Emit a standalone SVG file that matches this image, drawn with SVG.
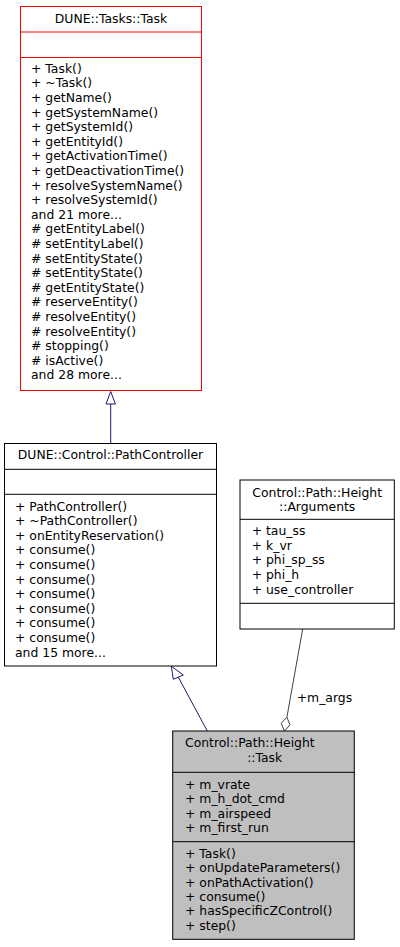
<svg xmlns="http://www.w3.org/2000/svg" width="400" height="947" viewBox="0 0 400 947">
<style>
text{font-family:"DejaVu Sans","Liberation Sans",sans-serif;font-size:12.4px;fill:#000}
.c{text-anchor:middle}
.box{fill:#fff;stroke:#000;stroke-width:1}
.red{fill:#fff;stroke:#ff0000;stroke-width:1}
.gray{fill:#bfbfbf;stroke:#000;stroke-width:1}
.inh{fill:none;stroke:#191970;stroke-width:1}
.agg{fill:none;stroke:#404040;stroke-width:1}
</style>
<rect width="400" height="947" fill="#fff"/>
<g id="connectors">
<line class="inh" x1="110.7" y1="404" x2="110.7" y2="443.5"/>
<polygon class="inh" fill="#fff" points="110.7,391.5 106,404 115.4,404" style="fill:#fff"/>
<line class="inh" x1="178.3" y1="677.2" x2="207.3" y2="731"/>
<polygon class="inh" points="171.3,666.2 173.3,679.3 183.3,675" style="fill:#fff"/>
<line class="agg" x1="302.7" y1="629" x2="286.9" y2="717.2"/>
<polygon class="agg" points="284.4,731 290,724.9 286.9,717.2 281.2,723.3" style="fill:#fff"/>
<text x="296.7" y="701.7">+m_args</text>
</g>
<g id="node-task">
<rect class="red" x="20.5" y="6.5" width="181" height="384"/>
<line class="red" x1="20.5" y1="32" x2="201.5" y2="32"/>
<line class="red" x1="20.5" y1="57.5" x2="201.5" y2="57.5"/>
<text class="c" x="111" y="23.3">DUNE::Tasks::Task</text>
<text x="31" y="72.8">+ Task()</text>
<text x="31" y="87.4">+ ~Task()</text>
<text x="31" y="102">+ getName()</text>
<text x="31" y="116.6">+ getSystemName()</text>
<text x="31" y="131.2">+ getSystemId()</text>
<text x="31" y="145.8">+ getEntityId()</text>
<text x="31" y="160.4">+ getActivationTime()</text>
<text x="31" y="175">+ getDeactivationTime()</text>
<text x="31" y="189.6">+ resolveSystemName()</text>
<text x="31" y="204.2">+ resolveSystemId()</text>
<text x="31" y="218.8">and 21 more...</text>
<text x="31" y="233.4"># getEntityLabel()</text>
<text x="31" y="248"># setEntityLabel()</text>
<text x="31" y="262.6"># setEntityState()</text>
<text x="31" y="277.2"># setEntityState()</text>
<text x="31" y="291.8"># getEntityState()</text>
<text x="31" y="306.4"># reserveEntity()</text>
<text x="31" y="321"># resolveEntity()</text>
<text x="31" y="335.6"># resolveEntity()</text>
<text x="31" y="350.2"># stopping()</text>
<text x="31" y="364.8"># isActive()</text>
<text x="31" y="379.4">and 28 more...</text>
</g>
<g id="node-pathcontroller">
<rect class="box" x="4.5" y="443.5" width="212" height="222.5"/>
<line class="box" x1="4.5" y1="469.3" x2="216.5" y2="469.3"/>
<line class="box" x1="4.5" y1="494.3" x2="216.5" y2="494.3"/>
<text class="c" x="110.5" y="459.3">DUNE::Control::PathController</text>
<text x="15" y="510.5">+ PathController()</text>
<text x="15" y="525.1">+ ~PathController()</text>
<text x="15" y="539.7">+ onEntityReservation()</text>
<text x="15" y="554.3">+ consume()</text>
<text x="15" y="568.9">+ consume()</text>
<text x="15" y="583.5">+ consume()</text>
<text x="15" y="598.1">+ consume()</text>
<text x="15" y="612.7">+ consume()</text>
<text x="15" y="627.3">+ consume()</text>
<text x="15" y="641.9">+ consume()</text>
<text x="15" y="656.5">and 15 more...</text>
</g>
<g id="node-arguments">
<rect class="box" x="240" y="480" width="154.3" height="149"/>
<line class="box" x1="240" y1="519.3" x2="394.3" y2="519.3"/>
<line class="box" x1="240" y1="603.3" x2="394.3" y2="603.3"/>
<text class="c" x="317.2" y="496.5">Control::Path::Height</text>
<text class="c" x="317.2" y="511">::Arguments</text>
<text x="251.7" y="535.2">+ tau_ss</text>
<text x="251.7" y="549.8">+ k_vr</text>
<text x="251.7" y="564.4">+ phi_sp_ss</text>
<text x="251.7" y="579">+ phi_h</text>
<text x="251.7" y="593.6">+ use_controller</text>
</g>
<g id="node-height-task">
<rect class="gray" x="172.7" y="731" width="181.6" height="208.3"/>
<line class="box" x1="172.7" y1="772.3" x2="354.3" y2="772.3"/>
<line class="box" x1="172.7" y1="841.7" x2="354.3" y2="841.7"/>
<text x="185" y="747.3">Control::Path::Height</text>
<text class="c" x="264.7" y="761.7">::Task</text>
<text x="185" y="788.5">+ m_vrate</text>
<text x="185" y="803">+ m_h_dot_cmd</text>
<text x="185" y="817.5">+ m_airspeed</text>
<text x="185" y="832">+ m_first_run</text>
<text x="185" y="857.8">+ Task()</text>
<text x="185" y="872.2">+ onUpdateParameters()</text>
<text x="185" y="886.6">+ onPathActivation()</text>
<text x="185" y="901">+ consume()</text>
<text x="185" y="915.4">+ hasSpecificZControl()</text>
<text x="185" y="929.8">+ step()</text>
</g>
</svg>
